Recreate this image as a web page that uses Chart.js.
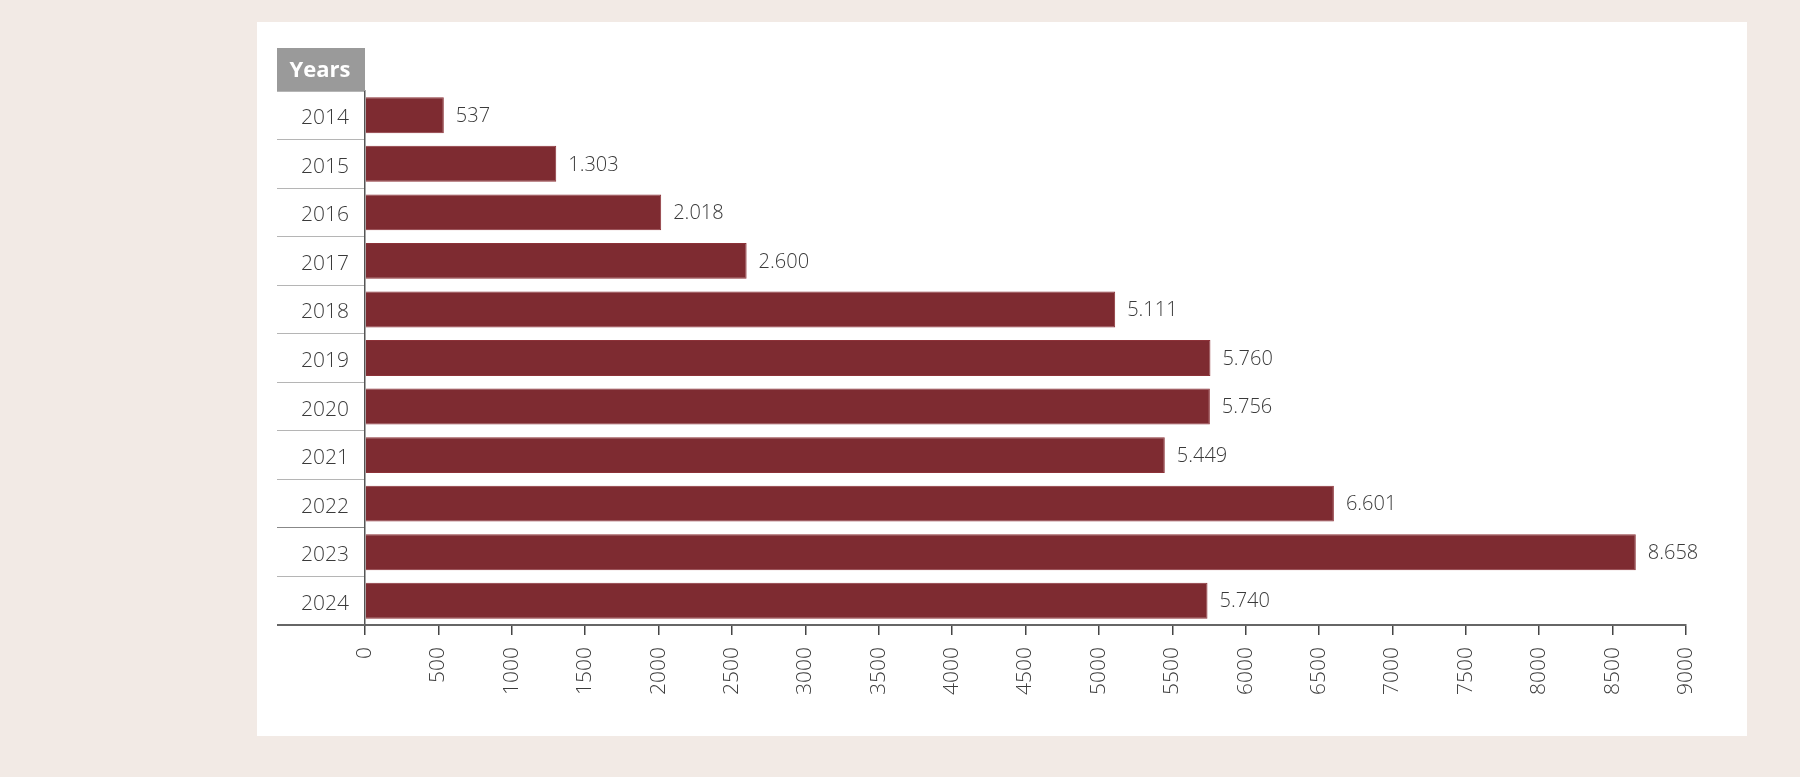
<!DOCTYPE html>
<html>
<head>
<meta charset="utf-8">
<script src="https://cdn.jsdelivr.net/npm/chart.js@4"></script>
<style>
    html, body { margin: 0; padding: 0; background: #f2eae5; }
    #panel { position: absolute; left: 257px; top: 22px; width: 1490px; height: 714px; background: #ffffff; }
    #wrap { position: absolute; left: 0; top: 0; width: 1800px; height: 777px; }
</style>
</head>
<body>
<div id="panel"></div>
<div id="wrap"><canvas id="yearsChart" width="1800" height="777"></canvas></div>
<script>
const headerLabel = 'Years';
const years = ['2014', '2015', '2016', '2017', '2018', '2019', '2020', '2021', '2022', '2023', '2024'];
const counts = [537, 1303, 2018, 2600, 5111, 5760, 5756, 5449, 6601, 8658, 5740];
const xTicks = [0, 500, 1000, 1500, 2000, 2500, 3000, 3500, 4000, 4500, 5000, 5500, 6000, 6500, 7000, 7500, 8000, 8500, 9000];

// 1303 -> "1.303"
function formatDots(value) {
    return String(value).replace(/\B(?=(\d{3})+(?!\d))/g, '.');
}

Chart.defaults.font.family = "'Open Sans', sans-serif";

const extrasPlugin = {
    id: 'extras',
    afterDraw(chart) {
        const ctx = chart.ctx;
        const area = chart.chartArea;
        const yScale = chart.scales.y;
        ctx.save();

        // gray header box above the year column
        ctx.fillStyle = '#9a9a9a';
        ctx.fillRect(yScale.left, area.top - 43, area.left - yScale.left, 43);
        ctx.fillStyle = '#ffffff';
        ctx.font = "bold 22px 'Open Sans', sans-serif";
        ctx.textAlign = 'center';
        ctx.textBaseline = 'middle';
        ctx.fillText(headerLabel, (yScale.left + area.left) / 2 - 1, area.top - 20);

        // bottom axis line runs under the year column too
        ctx.strokeStyle = '#666666';
        ctx.lineWidth = 2;
        ctx.beginPath();
        ctx.moveTo(yScale.left, area.bottom);
        ctx.lineTo(area.left, area.bottom);
        ctx.stroke();

        // value labels at the end of each bar
        const meta = chart.getDatasetMeta(0);
        ctx.fillStyle = '#3a3a3a';
        ctx.font = "300 20px 'Open Sans', sans-serif";
        ctx.textAlign = 'left';
        meta.data.forEach((bar, i) => {
            ctx.fillText(formatDots(counts[i]), bar.x + 12, bar.y + 1);
        });
        ctx.restore();
    }
};

const ctx = document.getElementById('yearsChart').getContext('2d');
const chart = new Chart(ctx, {
    type: 'bar',
    data: {
        labels: years,
        datasets: [{
            data: counts,
            backgroundColor: '#7e2b31',
            borderColor: '#8c3238',
            borderWidth: 1,
            categoryPercentage: 1,
            barPercentage: 0.74
        }]
    },
    options: {
        indexAxis: 'y',
        responsive: false,
        animation: false,
        devicePixelRatio: 1,
        layout: {
            padding: { left: 277, top: 91, right: 114, bottom: 72 }
        },
        plugins: {
            legend: { display: false },
            tooltip: { enabled: false }
        },
        scales: {
            x: {
                min: 0,
                max: 9000,
                afterBuildTicks(scale) {
                    scale.ticks = xTicks.map(v => ({ value: v }));
                },
                afterFit(scale) {
                    scale.height = 80;
                },
                border: { display: true, color: '#666666', width: 2 },
                grid: {
                    drawOnChartArea: false,
                    drawTicks: true,
                    tickLength: 10,
                    color: '#444444',
                    lineWidth: 1.5
                },
                ticks: {
                    autoSkip: false,
                    minRotation: 90,
                    maxRotation: 90,
                    padding: 12,
                    color: '#3a3a3a',
                    font: { size: 21, weight: 300 },
                    callback: (value) => String(value)
                }
            },
            y: {
                offset: true,
                afterFit(scale) {
                    scale.width = 88;
                },
                border: { display: true, color: '#555555', width: 1.5 },
                grid: {
                    offset: true,
                    drawOnChartArea: false,
                    drawTicks: true,
                    tickLength: 88,
                    lineWidth: 1,
                    color: (c) => c.index === 9 ? '#888888' : '#b5b5b5'
                },
                ticks: {
                    padding: -72,
                    labelOffset: 3,
                    color: '#3a3a3a',
                    font: { size: 21, weight: 300 }
                }
            }
        }
    },
    plugins: [extrasPlugin]
});
</script>
</body>
</html>
